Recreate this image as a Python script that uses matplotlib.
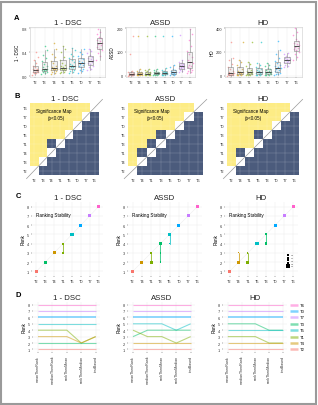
import matplotlib
matplotlib.use('Agg')
import matplotlib.pyplot as plt
import numpy as np
from matplotlib.colors import ListedColormap
from matplotlib.patches import Rectangle

plt.rcParams['font.family'] = ['Liberation Sans', 'DejaVu Sans']

W, H = 318, 406
fig = plt.figure(figsize=(W / 100, H / 100), dpi=100)


def box(l, t, r, b):
    return [l / W, 1 - b / H, (r - l) / W, (b - t) / H]


colors = {'T2': '#F8766D', 'T4': '#CD9600', 'T1': '#7CAE00', 'T3': '#00BE67',
          'T5': '#00BFC4', 'T0': '#00A9FF', 'T7': '#C77CFF', 'T6': '#FF61CC'}

titles = ['1 - DSC', 'ASSD', 'HD']

# ---------------- data ----------------
order_dsc = ['T2', 'T3', 'T4', 'T1', 'T5', 'T0', 'T7', 'T6']
order_assd = ['T2', 'T4', 'T1', 'T3', 'T5', 'T0', 'T7', 'T6']
order_hd = ['T2', 'T4', 'T1', 'T5', 'T3', 'T0', 'T7', 'T6']

vals_dsc = [
    [0.03, 0.05, 0.06, 0.07, 0.07, 0.08, 0.09, 0.10, 0.10, 0.11, 0.12, 0.13, 0.15, 0.18, 0.22, 0.27, 0.33, 0.40],
    [0.04, 0.06, 0.07, 0.08, 0.09, 0.10, 0.11, 0.11, 0.12, 0.13, 0.15, 0.17, 0.20, 0.25, 0.30, 0.36, 0.44, 0.50],
    [0.04, 0.06, 0.08, 0.09, 0.10, 0.11, 0.12, 0.12, 0.13, 0.14, 0.16, 0.18, 0.22, 0.26, 0.32, 0.38, 0.45, 0.55],
    [0.05, 0.07, 0.08, 0.10, 0.11, 0.12, 0.13, 0.13, 0.14, 0.15, 0.17, 0.19, 0.23, 0.28, 0.33, 0.40, 0.46, 0.50],
    [0.05, 0.08, 0.09, 0.11, 0.12, 0.14, 0.15, 0.16, 0.17, 0.19, 0.21, 0.24, 0.27, 0.30, 0.34, 0.38, 0.43, 0.47],
    [0.06, 0.09, 0.11, 0.13, 0.15, 0.17, 0.19, 0.20, 0.22, 0.24, 0.26, 0.29, 0.31, 0.34, 0.37, 0.41, 0.45],
    [0.10, 0.13, 0.16, 0.18, 0.20, 0.22, 0.24, 0.25, 0.27, 0.29, 0.31, 0.33, 0.36, 0.39, 0.42, 0.46],
    [0.28, 0.34, 0.39, 0.43, 0.46, 0.49, 0.52, 0.54, 0.56, 0.58, 0.60, 0.63, 0.66, 0.70, 0.74, 0.78],
]
vals_assd = [
    [1, 2, 3, 3, 4, 5, 5, 6, 7, 8, 9, 11, 14, 18, 22, 90, 168],
    [2, 3, 4, 5, 6, 7, 8, 9, 10, 11, 13, 15, 18, 22, 27, 168],
    [2, 3, 4, 5, 6, 7, 8, 9, 10, 12, 14, 16, 19, 23, 28, 168],
    [3, 4, 5, 6, 7, 8, 9, 10, 11, 13, 15, 17, 20, 24, 30, 168],
    [3, 4, 5, 6, 8, 9, 10, 11, 12, 14, 16, 18, 22, 26, 32, 168],
    [4, 5, 6, 8, 9, 11, 12, 14, 16, 18, 21, 25, 30, 36, 44, 168],
    [15, 20, 24, 28, 31, 34, 36, 38, 41, 44, 47, 51, 55, 60, 66, 170],
    [10, 15, 20, 25, 30, 35, 40, 45, 52, 60, 68, 78, 90, 105, 125, 150, 175, 195],
]
vals_hd = [
    [2, 4, 6, 8, 10, 12, 15, 18, 22, 26, 32, 40, 55, 75, 100, 130, 150, 288],
    [4, 6, 9, 12, 15, 18, 22, 26, 30, 36, 44, 55, 70, 90, 115, 130, 288],
    [4, 6, 9, 12, 15, 18, 22, 25, 29, 34, 40, 50, 62, 80, 100, 120, 288],
    [5, 8, 11, 14, 18, 22, 26, 30, 34, 40, 46, 55, 65, 78, 92, 105, 288],
    [5, 8, 11, 14, 18, 22, 26, 30, 35, 41, 48, 57, 68, 80, 95, 110],
    [8, 12, 18, 25, 32, 40, 48, 55, 62, 70, 80, 92, 105, 125, 150, 180, 220, 290],
    [70, 85, 95, 105, 112, 120, 126, 132, 138, 145, 152, 160, 170, 182, 195],
    [130, 160, 185, 200, 215, 225, 235, 245, 255, 265, 275, 290, 310, 340, 370, 400],
]

# significance map: pairs (x index, y index) above the diagonal that are NOT significant
nonsig_dsc = [(2, 3)]
nonsig_assd = [(1, 2), (2, 3), (3, 4)]
nonsig_hd = [(1, 2), (3, 4)]

# ranking stability: method, rank, proportion
stab_dsc_m = ['T2', 'T3', 'T4', 'T1', 'T1', 'T5', 'T0', 'T7', 'T6']
stab_dsc_r = [1, 2, 3, 3, 4, 5, 6, 7, 8]
stab_dsc_p = [1.0, 1.0, 1.0, 0.6, 0.4, 1.0, 1.0, 1.0, 1.0]
stab_assd_m = ['T2', 'T4', 'T1', 'T1', 'T3', 'T3', 'T3', 'T5', 'T5', 'T0', 'T7', 'T6']
stab_assd_r = [1, 2, 2, 3, 4, 3, 2, 5, 4, 6, 7, 8]
stab_assd_p = [1.0, 1.0, 0.8, 0.2, 0.7, 0.2, 0.1, 0.8, 0.2, 1.0, 1.0, 1.0]
stab_hd_m = ['T2', 'T4', 'T4', 'T1', 'T1', 'T5', 'T3', 'T3', 'T0', 'T7', 'T6']
stab_hd_r = [1, 2, 3, 2, 3, 4, 4, 5, 6, 7, 8]
stab_hd_p = [1.0, 0.95, 0.05, 0.9, 0.1, 1.0, 0.7, 0.3, 1.0, 1.0, 1.0]

# ranking robustness across ranking methods
rank_methods = ['meanThenRank', 'medianThenRank', 'rankThenMean', 'rankThenMedian', 'testBased']
rob_dsc = {'T6': [8, 8, 8, 8, 8], 'T7': [7, 7, 7, 7, 7], 'T0': [6, 6, 6, 6, 6], 'T5': [5, 5, 5, 5, 5],
           'T1': [4, 4, 4, 2, 3], 'T4': [3, 3, 3, 2, 3], 'T3': [2, 2, 2, 2, 2], 'T2': [1, 1, 1, 1, 1]}
rob_assd = {'T6': [8, 8, 8, 8, 8], 'T7': [7, 7, 7, 7, 7], 'T0': [6, 6, 6, 6, 6], 'T5': [5, 5, 5, 4, 5],
            'T3': [3, 4, 4, 4, 4], 'T1': [4, 3, 3, 2, 3], 'T4': [2, 2, 2, 2, 2], 'T2': [1, 1, 1, 1, 1]}
rob_hd = {'T6': [8, 8, 8, 8, 8], 'T7': [7, 7, 7, 7, 7], 'T0': [6, 6, 6, 6, 6], 'T3': [5, 5, 5, 4, 4],
          'T5': [4, 4, 4, 4, 4], 'T1': [3, 3, 3, 2, 2], 'T4': [2, 2, 2, 2, 2], 'T2': [1, 1, 1, 1, 1]}
legend_order = ['T6', 'T0', 'T7', 'T3', 'T5', 'T1', 'T4', 'T2']

# ---------------- styling helpers ----------------
TICK = 2.8
TITLE = 5.6


def style(ax, border=True):
    ax.tick_params(labelsize=TICK, length=1, width=0.3, pad=1, colors='#333333')
    for s in ax.spines.values():
        s.set_visible(border)
        s.set_color('#cccccc')
        s.set_linewidth(0.4)
    ax.grid(True, color='#ebebeb', lw=0.3)
    ax.set_axisbelow(True)


def title(ax, t):
    ax.set_title(t, fontsize=TITLE, pad=2, color='#222222', fontweight='light')


# ---------------- Panel A ----------------
a_boxes = [box(30, 28, 105, 78), box(126, 28, 195, 78), box(225, 28, 302, 78)]
a_data = [(order_dsc, vals_dsc, (-0.01, 0.82), [0, 0.4, 0.8], ['0.0', '0.4', '0.8']),
          (order_assd, vals_assd, (-5, 205), [0, 100, 200], ['0', '100', '200']),
          (order_hd, vals_hd, (-10, 410), [0, 200, 400], ['0', '200', '400'])]
for k, (pos, (order, vals, yl, yt, ytl)) in enumerate(zip(a_boxes, a_data)):
    ax = fig.add_axes(pos)
    style(ax)
    for i, (m, v) in enumerate(zip(order, vals)):
        n = len(v)
        jit = ((np.arange(n) * 0.618034) % 1 - 0.5) * 0.7
        ax.scatter(i + jit, v, s=1.3, color=colors[m], alpha=0.6, lw=0, zorder=2)
    ax.boxplot(vals, positions=range(8), widths=0.6, showfliers=False, patch_artist=True,
               boxprops=dict(facecolor=(0.6, 0.6, 0.6, 0.12), edgecolor='#888888', lw=0.4),
               medianprops=dict(color='#333333', lw=0.6),
               whiskerprops=dict(color='#888888', lw=0.4),
               capprops=dict(lw=0), zorder=3)
    ax.set_xlim(-0.6, 7.6)
    ax.set_ylim(*yl)
    ax.set_yticks(yt)
    ax.set_yticklabels(ytl)
    ax.set_xticks(range(8))
    ax.set_xticklabels(order)
    ax.set_ylabel(titles[k], fontsize=3.3, labelpad=1)
    title(ax, titles[k])

# ---------------- Panel B ----------------
b_boxes = [box(30, 104, 99, 176), box(128, 104, 203, 176), box(227, 104, 299, 176)]
b_data = [(order_dsc, nonsig_dsc), (order_assd, nonsig_assd), (order_hd, nonsig_hd)]
cmap = ListedColormap(['#4B5B7C', '#FDEC85', '#FFFFFF'])
for k, (pos, (order, nonsig)) in enumerate(zip(b_boxes, b_data)):
    ax = fig.add_axes(pos)
    M = np.zeros((8, 8))
    for y in range(8):
        for x in range(8):
            if x == y:
                M[y, x] = 2
            elif y > x:
                M[y, x] = 0 if (x, y) in nonsig else 1
            else:
                M[y, x] = 0
    ax.pcolormesh(np.arange(9) - 0.5, np.arange(9) - 0.5, M, cmap=cmap, vmin=0, vmax=2)
    for t in range(8):
        ax.axvline(t, color='white', lw=0.3, alpha=0.35)
        ax.axhline(t, color='white', lw=0.3, alpha=0.35)
    ax.plot([-0.9, 7.9], [-0.9, 7.9], color='#999999', lw=0.5, clip_on=False)
    ax.set_xlim(-0.5, 7.5)
    ax.set_ylim(-0.5, 7.5)
    ax.set_xticks(range(8))
    ax.set_xticklabels(order)
    ax.set_yticks(range(8))
    ax.set_yticklabels(order)
    ax.tick_params(labelsize=TICK, length=0, pad=2, colors='#333333')
    for s in ax.spines.values():
        s.set_visible(False)
    ax.text(0.08, 0.93, 'Significance Map', transform=ax.transAxes, fontsize=3.3, va='top')
    ax.text(0.25, 0.84, '(p<0.05)', transform=ax.transAxes, fontsize=3.3, va='top')
    title(ax, titles[k])

# ---------------- Panel C ----------------
c_boxes = [box(32, 203, 103, 277), box(128, 203, 202, 277), box(225, 203, 298, 277)]
c_data = [(order_dsc, stab_dsc_m, stab_dsc_r, stab_dsc_p),
          (order_assd, stab_assd_m, stab_assd_r, stab_assd_p),
          (order_hd, stab_hd_m, stab_hd_r, stab_hd_p)]
for k, (pos, (order, sm, sr, sp)) in enumerate(zip(c_boxes, c_data)):
    ax = fig.add_axes(pos)
    style(ax, border=False)
    ax.plot([0, 7], [1, 8], color='#eeeeee', lw=0.4, zorder=1)
    xi = [order.index(m) for m in sm]
    for m in order:
        rr = [r for mm, r in zip(sm, sr) if mm == m]
        if len(rr) > 1:
            ax.plot([order.index(m)] * 2, [min(rr), max(rr)], color=colors[m], lw=0.5, zorder=2)
    ax.scatter(xi, sr, s=[5 * p + 0.4 for p in sp], c=[colors[m] for m in sm], marker='s', lw=0, zorder=3)
    ax.set_xlim(-0.5, 7.5)
    ax.set_ylim(0.5, 8.5)
    ax.set_xticks(range(8))
    ax.set_xticklabels(order)
    ax.set_yticks(range(1, 9))
    ax.set_ylabel('Rank', fontsize=3.3, labelpad=1)
    ax.text(0.05, 0.86, 'Ranking Stability', transform=ax.transAxes, fontsize=3.3, va='top')
    title(ax, titles[k])
    if k == 2:
        for j, p in enumerate([0.2, 0.4, 0.6, 0.8, 1.0]):
            ax.scatter([6.4], [1.6 + 0.3 * (4 - j)], s=5 * p + 0.4, color='black', marker='s', lw=0)
            ax.text(6.75, 1.6 + 0.3 * (4 - j), f'{p:.1f}', fontsize=1.6, va='center', color='#555555')

# ---------------- Panel D ----------------
d_boxes = [box(33, 303, 100, 353), box(128, 303, 195, 353), box(223, 303, 287, 353)]
d_data = [rob_dsc, rob_assd, rob_hd]
for k, (pos, rob) in enumerate(zip(d_boxes, d_data)):
    ax = fig.add_axes(pos)
    style(ax, border=False)
    for m, r in rob.items():
        ax.plot(range(5), r, color=colors[m], lw=1.2 if m == 'T0' else 0.8, alpha=0.5,
                solid_capstyle='butt')
    ax.set_xlim(-0.35, 4.3)
    ax.set_ylim(0.6, 8.4)
    ax.set_yticks(range(1, 9))
    ax.set_xticks(range(5))
    ax.set_xticklabels(rank_methods, rotation=90, fontsize=2.6)
    ax.set_ylabel('Rank', fontsize=3.3, labelpad=1)
    title(ax, titles[k])
    if k == 2:
        for j, m in enumerate(legend_order):
            y = 8 - j
            ax.plot([4.55, 5.1], [y, y], color=colors[m], lw=1.8, alpha=0.5, clip_on=False,
                    solid_capstyle='butt')
            ax.text(5.25, y, m, fontsize=3, va='center')

# panel letters
for lab, (x, y) in zip('ABCD', [(17, 19), (17, 97), (18, 197), (18, 296)]):
    fig.text(x / W, 1 - y / H, lab, fontsize=5.5, fontweight='bold', va='center', ha='center')

# outer border
fig.patches.append(Rectangle((1 / W, 1 / H), (W - 3) / W, (H - 4) / H, transform=fig.transFigure,
                             fill=False, edgecolor='#9a9a9a', lw=1.5))

fig.savefig('out.png', dpi=100)
